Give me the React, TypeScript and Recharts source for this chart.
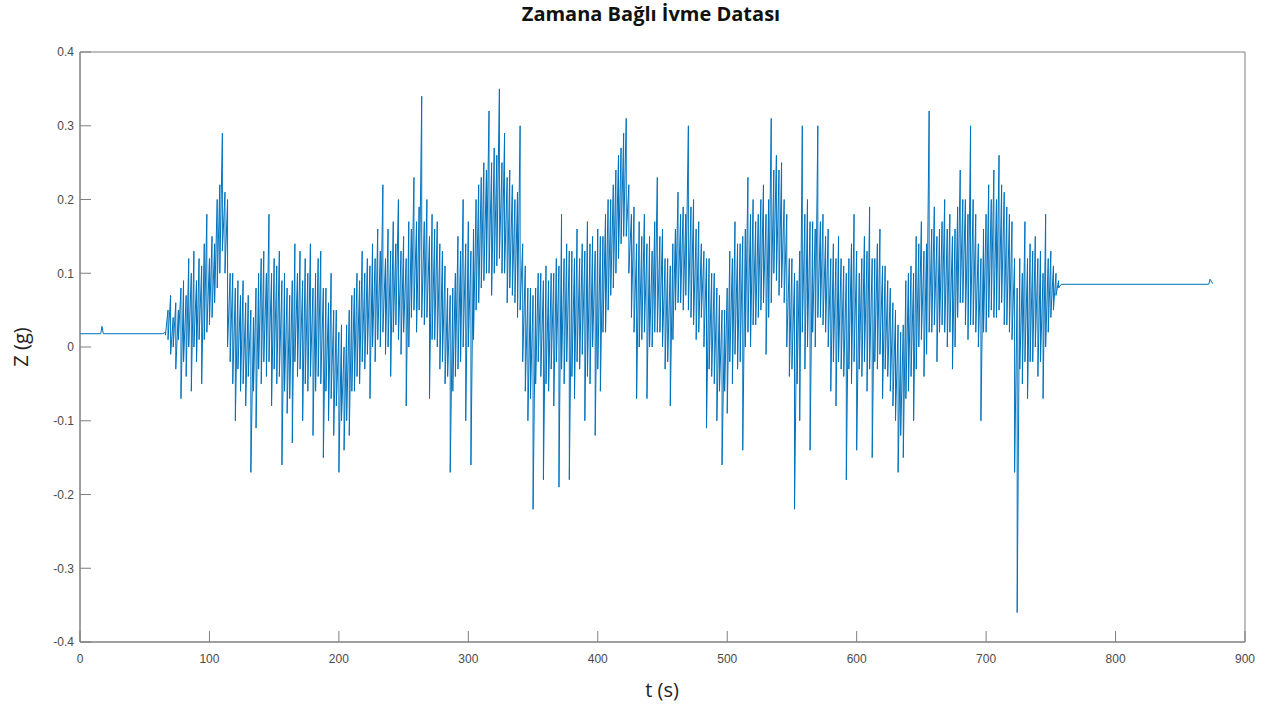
import { LineChart, Line, XAxis, YAxis, ReferenceArea } from "recharts";

// quiet part before the vibration starts
const LEAD_T = [0, 16, 17, 18, 64];
const LEAD_Z = [0.018, 0.018, 0.028, 0.018, 0.018];

// vibration part: highest and lowest reading in each 2 s step from t = 66 s
const NOISE_T0 = 66;
const NOISE_DT = 2;
const NOISE_HI = [
  0.02, 0.05, 0.07, 0.04, 0.06, 0.05, 0.08, 0.09, 0.07, 0.12,
  0.1, 0.13, 0.09, 0.12, 0.11, 0.14, 0.18, 0.12, 0.15, 0.14,
  0.2, 0.22, 0.29, 0.21, 0.2, 0.1, 0.1, 0.08, 0.09, 0.07,
  0.09, 0.06, 0.07, 0.05, 0.04, 0.08, 0.1, 0.12, 0.13, 0.1,
  0.18, 0.1, 0.12, 0.11, 0.13, 0.09, 0.1, 0.08, 0.07, 0.09,
  0.14, 0.1, 0.13, 0.09, 0.12, 0.1, 0.14, 0.08, 0.1, 0.12,
  0.13, 0.08, 0.08, 0.06, 0.1, 0.05, 0.05, 0.02, 0.03, 0.0,
  0.03, 0.05, 0.07, 0.08, 0.1, 0.09, 0.13, 0.1, 0.12, 0.11,
  0.14, 0.12, 0.16, 0.13, 0.22, 0.12, 0.16, 0.13, 0.17, 0.14,
  0.2, 0.13, 0.15, 0.12, 0.17, 0.16, 0.23, 0.17, 0.19, 0.34,
  0.17, 0.2, 0.15, 0.18, 0.16, 0.17, 0.14, 0.13, 0.11, 0.08,
  0.07, 0.08, 0.1, 0.15, 0.13, 0.2, 0.14, 0.17, 0.13, 0.16,
  0.2, 0.22, 0.23, 0.25, 0.24, 0.32, 0.25, 0.27, 0.26, 0.35,
  0.25, 0.29, 0.23, 0.24, 0.22, 0.2, 0.21, 0.3, 0.14, 0.11,
  0.08, 0.08, 0.07, 0.08, 0.1, 0.1, 0.09, 0.11, 0.09, 0.1,
  0.1, 0.12, 0.11, 0.18, 0.12, 0.14, 0.13, 0.13, 0.12, 0.16,
  0.12, 0.14, 0.13, 0.17, 0.14, 0.15, 0.13, 0.16, 0.15, 0.15,
  0.18, 0.2, 0.2, 0.22, 0.24, 0.26, 0.27, 0.29, 0.31, 0.22,
  0.18, 0.19, 0.14, 0.17, 0.15, 0.18, 0.14, 0.15, 0.13, 0.17,
  0.23, 0.15, 0.16, 0.12, 0.12, 0.11, 0.14, 0.16, 0.21, 0.18,
  0.19, 0.18, 0.3, 0.19, 0.2, 0.16, 0.17, 0.14, 0.13, 0.12,
  0.12, 0.1, 0.1, 0.08, 0.07, 0.05, 0.05, 0.08, 0.13, 0.12,
  0.17, 0.14, 0.14, 0.15, 0.16, 0.23, 0.18, 0.2, 0.17, 0.18,
  0.2, 0.22, 0.18, 0.2, 0.31, 0.24, 0.26, 0.24, 0.25, 0.2,
  0.18, 0.12, 0.12, 0.1, 0.09, 0.13, 0.3, 0.18, 0.2, 0.17,
  0.17, 0.16, 0.3, 0.17, 0.18, 0.15, 0.16, 0.12, 0.14, 0.12,
  0.15, 0.12, 0.11, 0.1, 0.12, 0.14, 0.18, 0.13, 0.1, 0.12,
  0.15, 0.13, 0.19, 0.12, 0.12, 0.14, 0.16, 0.11, 0.11, 0.09,
  0.08, 0.06, 0.05, 0.03, 0.02, 0.03, 0.09, 0.1, 0.11, 0.1,
  0.15, 0.14, 0.17, 0.13, 0.14, 0.32, 0.16, 0.19, 0.15, 0.16,
  0.17, 0.2, 0.16, 0.18, 0.15, 0.16, 0.19, 0.24, 0.2, 0.2,
  0.18, 0.3, 0.2, 0.18, 0.14, 0.12, 0.16, 0.18, 0.22, 0.2,
  0.24, 0.2, 0.26, 0.22, 0.21, 0.19, 0.18, 0.17, 0.12, 0.08,
  0.12, 0.1, 0.17, 0.12, 0.14, 0.13, 0.15, 0.12, 0.13, 0.1,
  0.18, 0.12, 0.13, 0.11, 0.1, 0.09,
];
const NOISE_LO = [
  0.016, 0.01, -0.01, 0.0, -0.03, 0.01, -0.07, -0.02, -0.04, 0.0,
  -0.06, 0.0, -0.02, 0.01, -0.05, 0.01, 0.02, 0.03, 0.04, 0.06,
  0.08, 0.1, 0.13, 0.1, 0.0, -0.02, -0.05, -0.1, -0.03, -0.06,
  -0.05, -0.08, -0.04, -0.17, -0.06, -0.11, -0.03, -0.05, -0.02, -0.04,
  -0.02, -0.08, -0.03, -0.05, -0.04, -0.16, -0.06, -0.09, -0.07, -0.13,
  -0.02, -0.04, -0.03, -0.1, -0.05, -0.06, -0.04, -0.12, -0.06, -0.04,
  -0.05, -0.15, -0.06, -0.1, -0.07, -0.12, -0.08, -0.17, -0.1, -0.14,
  -0.1, -0.12, -0.06, -0.06, -0.04, -0.05, -0.02, -0.03, -0.01, -0.07,
  0.0, -0.02, 0.01, 0.0, 0.02, -0.01, 0.0, -0.04, 0.02, 0.03,
  0.01, -0.01, 0.02, -0.08, 0.0, 0.04, 0.05, 0.02, 0.05, 0.04,
  0.03, 0.04, -0.07, 0.01, 0.01, 0.0, -0.03, -0.02, -0.05, -0.04,
  -0.17, -0.06, -0.04, -0.03, -0.02, 0.0, -0.1, 0.0, -0.16, 0.01,
  0.05, 0.06, 0.08, 0.09, 0.1, 0.1, 0.07, 0.1, 0.11, 0.12,
  0.1, 0.1, 0.06, 0.08, 0.07, 0.06, 0.04, 0.05, -0.02, -0.06,
  -0.1, -0.07, -0.22, -0.05, -0.02, -0.04, -0.18, -0.05, -0.06, -0.03,
  -0.08, -0.02, -0.19, -0.03, -0.05, -0.02, -0.18, -0.04, -0.07, -0.02,
  -0.03, -0.01, -0.1, -0.04, -0.05, 0.0, -0.12, -0.03, -0.06, 0.02,
  0.02, 0.05, 0.07, 0.08, 0.1, 0.12, 0.14, 0.15, 0.15, 0.1,
  0.04, 0.02, -0.07, 0.0, 0.01, 0.02, -0.07, 0.0, 0.0, 0.02,
  0.02, 0.02, 0.0, -0.03, -0.02, -0.08, 0.01, 0.05, 0.06, 0.06,
  0.05, 0.07, 0.05, 0.04, 0.03, 0.01, 0.02, 0.04, 0.0, -0.11,
  -0.03, -0.04, -0.05, -0.1, -0.06, -0.16, -0.06, -0.09, -0.02, -0.05,
  -0.01, -0.03, -0.02, -0.14, 0.0, 0.02, 0.0, 0.03, 0.03, 0.04,
  0.05, 0.06, -0.01, 0.04, 0.06, 0.1, 0.09, 0.07, 0.08, 0.06,
  0.0, -0.04, -0.03, -0.22, -0.05, -0.1, 0.02, -0.03, 0.0, -0.14,
  0.02, 0.0, 0.04, 0.04, 0.03, 0.02, 0.0, -0.06, -0.02, -0.08,
  -0.02, -0.03, -0.04, -0.18, -0.03, -0.05, -0.02, -0.14, -0.03, -0.04,
  -0.02, -0.06, -0.03, -0.15, -0.02, -0.03, -0.01, -0.07, -0.03, -0.04,
  -0.06, -0.08, -0.1, -0.17, -0.12, -0.15, -0.07, -0.06, -0.04, -0.1,
  -0.03, 0.0, 0.01, -0.04, -0.01, 0.02, 0.02, 0.03, -0.02, 0.02,
  0.03, 0.02, 0.0, 0.02, -0.03, 0.0, 0.04, 0.06, 0.06, 0.03,
  0.01, 0.03, 0.03, 0.02, 0.0, -0.1, 0.02, 0.02, 0.04, 0.05,
  0.04, 0.04, 0.05, 0.06, 0.03, 0.03, 0.02, 0.01, -0.17, -0.36,
  -0.03, -0.05, -0.02, -0.07, -0.02, -0.02, 0.0, -0.04, -0.02, -0.07,
  0.0, 0.02, 0.04, 0.05, 0.07, 0.08,
];

// settled part after the vibration
const TAIL_T = [758, 872, 873, 875];
const TAIL_Z = [0.085, 0.085, 0.092, 0.086];

const X_TICKS = [0, 100, 200, 300, 400, 500, 600, 700, 800, 900];
const Y_TICKS = [-0.4, -0.3, -0.2, -0.1, 0, 0.1, 0.2, 0.3, 0.4];

const data = [
  ...LEAD_T.map((t, i) => ({ t, z: LEAD_Z[i] })),
  ...NOISE_HI.flatMap((hi, i) => [
    { t: NOISE_T0 + i * NOISE_DT, z: hi },
    { t: NOISE_T0 + i * NOISE_DT, z: NOISE_LO[i] },
  ]),
  ...TAIL_T.map((t, i) => ({ t, z: TAIL_Z[i] })),
];

const AXIS = "#7f7f7f";
const TICK_TEXT = { fill: "#4a4a4a", fontSize: 12, fontFamily: "Liberation Sans, Arial, sans-serif" };
const fmtY = (v: number) => String(Math.round(v * 10) / 10);

export default function App() {
  return (
    <div style={{ position: "absolute", left: 0, top: 0, width: 1271, height: 709, background: "#fff" }}>
      <div
        style={{
          position: "absolute",
          left: 451,
          width: 400,
          top: 0,
          textAlign: "center",
          fontFamily: "Open Sans, sans-serif",
          fontWeight: 700,
          fontSize: 20,
          color: "#111",
        }}
      >
        Zamana Bağlı İvme Datası
      </div>
      <div
        style={{
          position: "absolute",
          left: 21 - 40,
          top: 347 - 14,
          width: 80,
          height: 28,
          lineHeight: "28px",
          textAlign: "center",
          transform: "rotate(-90deg)",
          fontFamily: "Open Sans, sans-serif",
          fontSize: 20,
          color: "#222",
        }}
      >
        Z (g)
      </div>
      <div
        style={{
          position: "absolute",
          left: 662 - 40,
          top: 676,
          width: 80,
          textAlign: "center",
          fontFamily: "Open Sans, sans-serif",
          fontSize: 20,
          color: "#222",
        }}
      >
        t (s)
      </div>
      <LineChart width={1271} height={709} data={data} margin={{ top: 52, right: 26, left: 0, bottom: 0 }}>
        <ReferenceArea x1={0} x2={900} y1={-0.4} y2={0.4} fill="none" stroke={AXIS} strokeWidth={1} ifOverflow="visible" />
        <XAxis
          dataKey="t"
          type="number"
          domain={[0, 900]}
          ticks={X_TICKS}
          height={67}
          stroke={AXIS}
          tickSize={-11}
          tickMargin={23}
          tick={TICK_TEXT}
          interval={0}
        />
        <XAxis
          xAxisId="top"
          dataKey="t"
          type="number"
          orientation="top"
          domain={[0, 900]}
          ticks={X_TICKS}
          height={0}
          stroke={AXIS}
          tickSize={-11}
          tick={false}
        />
        <YAxis
          type="number"
          domain={[-0.4, 0.4]}
          ticks={Y_TICKS}
          width={80}
          stroke={AXIS}
          tickSize={-11}
          tickMargin={17}
          tick={TICK_TEXT}
          tickFormatter={fmtY}
          interval={0}
        />
        <YAxis
          yAxisId="right"
          type="number"
          orientation="right"
          domain={[-0.4, 0.4]}
          ticks={Y_TICKS}
          width={0}
          stroke={AXIS}
          tickSize={-11}
          tick={false}
        />
        <Line
          type="linear"
          dataKey="z"
          stroke="#0072BD"
          strokeWidth={1}
          dot={false}
          activeDot={false}
          isAnimationActive={false}
        />
      </LineChart>
    </div>
  );
}
